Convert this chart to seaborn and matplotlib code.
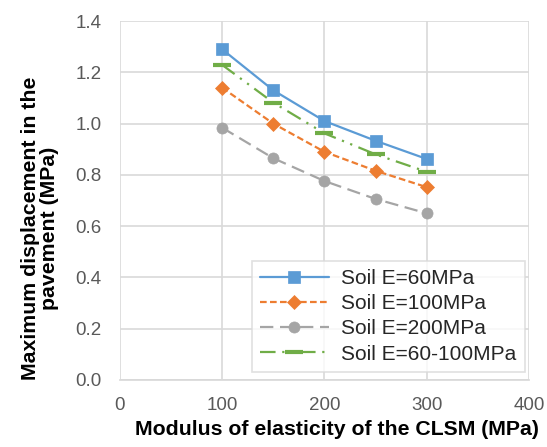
import matplotlib

matplotlib.use("Agg")

import matplotlib.pyplot as plt
import pandas as pd
import seaborn as sns

MODULUS = [100, 150, 200, 250, 300]
SOIL_60 = [1.29, 1.13, 1.01, 0.933, 0.862]
SOIL_100 = [1.14, 1.00, 0.89, 0.816, 0.752]
SOIL_200 = [0.984, 0.865, 0.776, 0.706, 0.650]
SOIL_60_100 = [1.229, 1.082, 0.962, 0.880, 0.812]

SERIES = [
    ("Soil E=60MPa", SOIL_60, "#5B9BD5", "s", (None, None), 9),
    ("Soil E=100MPa", SOIL_100, "#ED7D31", "D", (3, 1.5), 7),
    ("Soil E=200MPa", SOIL_200, "#A5A5A5", "o", (6, 3), 8),
    ("Soil E=60-100MPa", SOIL_60_100, "#70AD47", "_", (7, 3, 1, 3, 1, 3), 13),
]


def main() -> None:
    sns.set_theme(style="white")
    plt.rcParams["font.family"] = ["Liberation Sans", "DejaVu Sans"]

    fig, ax = plt.subplots(figsize=(5.47, 4.47), dpi=100)
    for label, values, color, marker, dashes, msize in SERIES:
        df = pd.DataFrame({"x": MODULUS, "y": values})
        sns.lineplot(data=df, x="x", y="y", ax=ax, color=color, marker=marker,
                     markersize=msize, linewidth=1.6, label=label,
                     markeredgecolor=color, markeredgewidth=3 if marker == "_" else 0.5)
        ln = ax.get_lines()[-1]
        if dashes[0] is not None:
            ln.set_dashes(dashes)

    ax.set_xlim(0, 400)
    ax.set_ylim(0, 1.4)
    ax.set_xticks(range(0, 401, 100))
    ax.set_yticks([i * 0.2 for i in range(8)])
    ax.set_yticklabels([f"{i * 0.2:.1f}" for i in range(8)])
    ax.tick_params(labelsize=13.5, colors="#595959", length=0)
    ax.tick_params(axis="y", pad=13)
    ax.tick_params(axis="x", pad=12)
    ax.grid(True, color="#D9D9D9", linewidth=1.2)
    for side in ["top", "right", "left"]:
        ax.spines[side].set_visible(False)
    ax.spines["bottom"].set_color("#D9D9D9")

    ax.set_xlabel("Modulus of elasticity of the CLSM (MPa)", fontsize=15.3, fontweight="bold",
                  color="black")
    ax.set_ylabel("Maximum displacement in the\npavement (MPa)", fontsize=15.3, fontweight="bold",
                  color="black", linespacing=1.0)
    ax.xaxis.set_label_coords(0.53, -0.111)
    ax.yaxis.set_label_coords(-0.149, 0.423)

    leg = ax.legend(loc="lower right", fontsize=15, frameon=True, fancybox=False,
                    handlelength=3.3, borderpad=0.4, labelspacing=0.3, handletextpad=0.6,
                    borderaxespad=0, bbox_to_anchor=(0.99, 0.022))
    leg.get_frame().set_edgecolor("#D9D9D9")
    leg.get_frame().set_linewidth(1.2)

    fig.subplots_adjust(left=0.219, right=0.967, top=0.953, bottom=0.15)
    fig.savefig("out.png", dpi=100)


if __name__ == "__main__":
    main()
